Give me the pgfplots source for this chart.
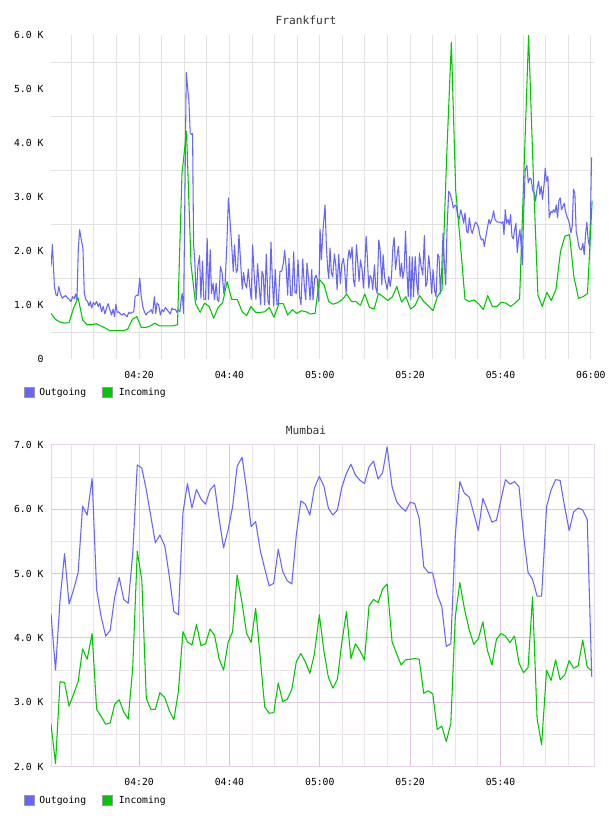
\documentclass[border=0pt]{standalone}
\usepackage{fontspec}
\setmainfont{DejaVu Sans Mono}
\usepackage{pgfplots}
\pgfplotsset{compat=1.18}
\usepackage{pgfplotstable}
\definecolor{outc}{RGB}{102,102,255}
\definecolor{inc}{RGB}{0,200,0}
\definecolor{gridg}{RGB}{226,226,226}
\definecolor{gridp}{RGB}{222,196,222}
\definecolor{gridpl}{RGB}{234,228,234}
\definecolor{framec}{RGB}{232,212,232}

\pgfplotstableread{
t v
0.51 1.72
0.81 2.13
1.25 1.35
1.62 1.19
1.91 1.18
2.21 1.35
2.57 1.22
3.01 1.13
3.38 1.16
3.75 1.18
4.12 1.14
4.56 1.11
4.93 1.07
5.29 1.16
5.66 1.13
5.96 1.21
6.25 1.10
6.54 2.03
6.84 2.40
7.21 2.21
7.57 2.06
7.87 1.22
8.24 1.10
8.60 1.07
8.90 0.99
9.19 1.07
9.49 0.95
9.85 1.05
10.22 1.01
10.59 1.07
10.96 0.98
11.32 1.04
11.69 0.88
12.06 0.98
12.43 0.84
12.79 0.95
13.16 1.03
13.53 0.92
13.90 0.82
14.26 0.93
14.56 0.79
14.85 1.02
15.15 0.87
15.51 0.88
15.88 0.84
16.25 0.82
16.62 0.85
16.99 0.82
17.35 0.79
17.72 0.87
18.09 0.85
18.46 0.87
18.82 0.88
19.12 1.16
19.49 1.19
19.78 1.18
20.15 1.50
20.44 1.19
20.81 0.98
21.18 0.88
21.54 0.82
21.91 0.87
22.28 0.88
22.65 0.92
23.01 0.85
23.38 1.16
23.68 0.85
23.97 1.04
24.34 1.01
24.71 0.82
25.07 0.92
25.44 0.88
25.81 0.96
26.18 0.92
26.54 0.88
26.91 0.84
27.28 0.95
27.65 0.92
28.01 0.93
28.38 0.87
28.68 0.92
29.04 0.88
29.34 1.13
29.56 1.22
29.85 0.85
30.44 5.31
30.74 5.03
31.03 4.78
31.32 4.19
31.62 4.16
31.84 4.18
32.06 2.15
32.35 1.78
32.65 1.10
33.01 1.72
33.38 1.92
33.68 1.13
34.04 1.82
34.34 1.11
34.71 1.11
35.07 2.24
35.37 1.11
35.74 2.03
36.03 1.22
36.40 1.41
36.69 1.10
37.06 1.41
37.35 1.10
37.65 1.07
38.01 1.72
38.38 1.60
38.75 1.22
39.04 1.41
39.41 2.09
39.78 2.99
40.47 2.15
40.84 1.63
41.13 2.12
41.50 1.61
41.80 1.66
42.10 2.31
42.47 1.81
42.83 1.30
43.13 1.61
43.43 1.41
43.80 1.32
44.17 1.67
44.53 1.32
44.83 1.11
45.13 2.12
45.50 1.53
45.86 1.11
46.23 1.77
46.60 1.32
46.90 1.01
47.20 1.63
47.49 1.56
47.79 1.01
48.16 1.95
48.53 1.07
48.82 1.01
49.19 2.17
49.49 1.50
49.78 0.99
50.15 1.66
50.52 1.01
50.82 1.04
51.19 1.63
51.56 1.63
51.93 1.78
52.22 2.02
52.59 1.66
52.89 1.19
53.18 1.87
53.55 1.18
53.85 1.18
54.22 1.99
54.51 1.24
54.81 1.22
55.18 1.84
55.55 1.16
55.84 1.01
56.21 1.86
56.58 1.35
56.88 1.10
57.17 1.78
57.54 1.47
57.84 1.10
58.21 1.66
58.50 1.10
58.87 1.50
59.17 1.56
59.46 1.48
59.76 1.07
60.06 2.41
60.35 1.84
60.72 2.40
61.16 2.86
61.46 2.09
61.76 1.67
61.98 1.50
62.27 2.06
62.57 1.60
62.86 1.53
63.23 1.95
63.53 1.75
63.83 1.29
64.19 1.94
64.56 1.40
64.86 1.75
65.23 1.87
65.52 1.66
65.82 1.22
66.19 1.84
66.49 2.03
66.78 1.87
67.15 2.08
67.45 1.47
67.74 1.35
68.11 2.12
68.41 1.78
68.70 1.44
69.00 1.84
69.37 1.66
69.66 1.32
69.96 1.72
70.26 2.28
70.55 1.84
70.85 1.32
71.14 1.55
71.44 1.50
71.73 1.29
72.10 1.75
72.40 1.32
72.69 1.22
73.06 2.21
73.36 2.03
73.73 1.38
74.02 1.94
74.32 1.53
74.62 1.41
74.91 1.29
75.28 1.53
75.58 1.35
75.87 1.53
76.17 2.06
76.46 2.26
76.76 1.66
77.13 1.94
77.42 2.09
77.79 1.53
78.09 1.78
78.38 1.50
78.68 1.66
78.98 2.37
79.27 1.66
79.57 1.16
79.86 1.90
80.16 1.10
80.45 1.90
80.75 1.16
81.12 1.90
81.46 1.41
81.75 1.19
82.05 1.97
82.42 1.73
82.79 1.56
83.15 2.29
83.45 1.35
83.74 1.41
84.11 1.92
84.41 1.66
84.77 1.22
85.07 1.66
85.44 1.26
85.73 1.16
86.10 1.95
86.40 1.90
86.69 1.22
86.99 1.66
87.28 2.33
87.58 1.78
87.87 1.38
88.16 2.40
88.53 3.11
88.83 3.07
89.20 2.96
89.56 2.80
89.86 2.85
90.23 2.84
90.52 2.65
90.89 2.60
91.19 2.77
91.55 2.65
91.85 2.52
92.14 2.71
92.51 2.37
92.81 2.34
93.10 2.62
93.47 2.40
93.76 2.33
94.06 2.43
94.43 2.54
94.80 2.51
95.09 2.46
95.46 2.29
95.76 2.21
96.12 2.23
96.42 2.09
96.79 2.29
97.16 2.46
97.45 2.59
97.74 2.51
98.11 2.60
98.48 2.75
98.78 2.59
99.14 2.55
99.51 2.54
99.88 2.54
100.25 2.52
100.54 2.55
100.77 2.31
101.06 2.77
101.36 2.52
101.65 2.59
101.95 2.49
102.24 2.68
102.53 2.28
102.83 2.23
103.12 2.40
103.42 2.52
103.71 1.98
104.01 2.24
104.30 2.40
104.60 2.09
104.82 1.75
105.11 2.65
105.48 3.51
105.85 3.59
106.15 3.27
106.51 3.36
106.81 3.33
107.10 3.14
107.47 3.08
107.77 2.93
108.06 3.14
108.43 3.30
108.72 3.05
109.02 3.20
109.31 2.96
109.68 3.27
109.90 3.54
110.20 3.30
110.49 3.39
110.79 2.62
111.16 2.74
111.45 2.72
111.75 2.77
112.04 2.72
112.34 2.86
112.63 2.62
112.92 2.93
113.22 2.99
113.51 2.77
113.81 2.83
114.10 2.89
114.40 2.74
114.69 2.65
114.99 2.59
115.28 2.51
115.58 2.34
115.87 2.46
116.17 3.15
116.46 3.08
116.76 2.37
117.05 2.24
117.35 2.09
117.64 2.03
117.94 2.03
118.23 2.15
118.53 1.94
118.82 2.31
119.12 2.54
119.41 2.21
119.70 2.09
119.93 2.65
120.15 3.74
}\frout

\pgfplotstableread{
t v
0.5 0.85
1.5 0.74
2.5 0.69
3.5 0.67
4.5 0.68
5.5 0.95
6.5 1.14
7.5 0.73
8.5 0.64
9.5 0.64
10.5 0.66
11.5 0.62
12.5 0.58
13.5 0.53
14.5 0.53
15.5 0.53
16.5 0.53
17.5 0.56
18.5 0.74
19.5 0.79
20.5 0.59
21.5 0.59
22.5 0.62
23.5 0.67
24.5 0.62
25.5 0.62
26.5 0.62
27.5 0.62
28.5 0.64
29.5 3.45
30.5 4.22
31.5 1.75
32.5 1.03
33.5 0.87
34.5 1.04
35.5 0.98
36.5 0.76
37.5 0.96
38.5 1.05
39.5 1.44
40.5 1.11
41.73 1.11
42.83 0.88
43.80 0.81
44.76 0.98
45.79 0.87
46.83 0.87
47.79 0.88
48.82 0.96
49.86 0.78
50.96 1.03
51.93 1.03
52.89 0.82
53.92 0.92
54.88 0.85
55.92 0.90
56.95 0.88
57.91 0.84
58.95 0.85
59.91 1.48
60.94 1.38
61.98 1.07
62.94 1.02
63.97 1.05
65.01 1.11
65.97 1.21
67.00 1.07
67.96 1.07
69.00 1.00
69.96 1.21
70.99 0.96
72.03 0.93
72.99 1.22
74.02 1.16
75.06 1.09
76.09 1.16
77.05 1.35
78.09 1.06
79.05 1.16
80.09 0.93
81.12 1.00
82.08 1.18
83.01 1.07
84.04 0.99
85.07 0.90
86.03 1.16
87.06 1.29
88.09 3.76
89.12 5.87
90.08 3.14
91.11 2.15
92.14 1.11
93.10 1.07
94.13 1.10
95.16 1.03
96.20 0.92
97.16 1.18
98.19 0.98
99.22 0.98
100.18 1.06
101.21 1.04
102.24 0.98
103.20 1.04
104.23 1.12
105.26 3.64
106.22 6.00
107.25 3.45
108.28 1.19
109.24 0.98
110.27 1.24
111.23 1.09
112.26 1.29
113.29 2.00
114.25 2.28
115.28 2.31
116.24 1.53
117.27 1.13
118.30 1.16
119.26 1.22
120.29 2.94
}\frin

\pgfplotstableread{
t o i
0.5 4.38 2.66
1.5 3.50 2.05
2.5 4.59 3.32
3.5 5.31 3.31
4.5 4.53 2.94
5.5 4.75 3.13
6.5 5.01 3.32
7.5 6.05 3.83
8.5 5.91 3.67
9.6 6.48 4.07
10.6 4.75 2.89
11.6 4.33 2.78
12.6 4.03 2.66
13.6 4.12 2.68
14.6 4.64 2.97
15.6 4.94 3.04
16.6 4.60 2.85
17.6 4.54 2.74
18.6 5.32 3.55
19.6 6.69 5.35
20.6 6.64 4.90
21.6 6.30 3.06
22.6 5.89 2.89
23.6 5.48 2.89
24.6 5.60 3.15
25.7 5.43 3.07
26.7 4.95 2.87
27.7 4.41 2.73
28.7 4.36 3.17
29.7 5.94 4.10
30.7 6.40 3.94
31.7 6.02 3.89
32.7 6.31 4.21
33.7 6.16 3.88
34.7 6.08 3.91
35.7 6.30 4.14
36.7 6.38 4.04
37.7 5.86 3.68
38.7 5.40 3.50
39.7 5.68 3.93
40.7 6.04 4.10
41.7 6.67 4.98
42.8 6.81 4.54
43.8 6.31 4.07
44.8 5.73 3.93
45.8 5.81 4.46
46.8 5.37 3.71
47.8 5.08 2.93
48.8 4.81 2.83
49.8 4.85 2.84
50.8 5.38 3.30
51.8 5.03 3.01
52.8 4.89 3.05
53.8 4.84 3.20
54.8 5.60 3.63
55.8 6.13 3.76
56.8 6.08 3.63
57.8 5.91 3.45
58.8 6.33 3.75
59.9 6.51 4.36
60.9 6.36 3.80
61.9 6.02 3.39
62.9 5.91 3.22
63.9 5.99 3.36
64.9 6.35 3.94
65.9 6.56 4.41
66.9 6.70 3.68
67.9 6.53 3.91
68.9 6.45 3.80
69.9 6.40 3.66
70.9 6.66 4.50
71.9 6.75 4.60
72.9 6.47 4.55
73.9 6.57 4.76
74.9 6.97 4.84
76.0 6.35 3.94
77.0 6.12 3.76
78.0 6.03 3.58
79.0 5.97 3.66
80.0 6.11 3.67
81.0 6.09 3.68
82.0 5.86 3.67
83.0 5.11 3.14
84.0 5.02 3.18
85.0 5.01 3.13
86.0 4.67 2.58
87.0 4.49 2.63
88.0 3.87 2.39
89.0 3.91 2.67
90.0 5.60 4.33
91.0 6.43 4.86
92.0 6.25 4.46
93.1 6.19 4.12
94.1 5.93 3.90
95.1 5.67 3.99
96.1 6.17 4.25
97.1 5.99 3.81
98.1 5.80 3.58
99.1 5.83 3.98
100.1 6.15 4.07
101.1 6.46 4.03
102.1 6.39 3.93
103.1 6.43 4.03
104.1 6.35 3.61
105.1 5.60 3.46
106.1 5.02 3.54
107.1 4.91 4.64
108.1 4.65 2.75
109.1 4.65 2.34
110.2 6.04 3.50
111.2 6.30 3.34
112.2 6.46 3.66
113.2 6.45 3.35
114.2 6.04 3.42
115.2 5.67 3.65
116.2 5.96 3.53
117.2 6.02 3.57
118.2 5.99 3.97
119.2 5.84 3.55
120.2 3.40 3.49
}\mumbai

\begin{document}
\begin{tikzpicture}
\fill[white] (0,0) rectangle (456pt,612pt);
\path[use as bounding box] (0,0) rectangle (456pt,612pt);

\pgfplotsset{
  rrd/.style={
    scale only axis, width=407.25pt, xmin=0.5, xmax=120.7,
    tick label style={font=\fontsize{7.3}{8}\selectfont, text=black},
    major tick length=0pt, minor tick length=0pt,
    tick style={draw=none},
    xticklabel style={anchor=center, inner sep=0pt, yshift=-11.7pt},
    yticklabel style={anchor=east, inner sep=0pt, xshift=-5.5pt},
    every axis plot/.append style={line width=0.8pt, line join=round, mark=none},
  }
}

% ---------- Frankfurt ----------
\begin{axis}[rrd, at={(38.25pt,342.5pt)}, anchor=south west, height=243pt,
  ymin=0, ymax=6,
  xtick={20,40,60,80,100,120}, xticklabels={04:20,04:40,05:00,05:20,05:40,06:00},
  minor xtick={5,10,...,120},
  ytick={0,1,2,3,4,5,6}, yticklabels={0,1.0 K,2.0 K,3.0 K,4.0 K,5.0 K,6.0 K},
  minor ytick={0.5,1.5,...,5.5},
  grid=minor, minor grid style={gridg, line width=0.75pt},
  axis line style={draw=none},
]
\addplot[outc] table[x=t, y=v] {\frout};
\addplot[inc] table[x=t, y=v] {\frin};
\end{axis}

% ---------- Mumbai ----------
\begin{axis}[rrd, at={(38.25pt,36.98pt)}, anchor=south west, height=241.3pt,
  ymin=2, ymax=7,
  xtick={20,40,60,80,100}, xticklabels={04:20,04:40,05:00,05:20,05:40},
  minor xtick={5,10,15,25,30,35,45,50,55,65,70,75,85,90,95,105,110,115},
  ytick={2,3,4,5,6,7}, yticklabels={2.0 K,3.0 K,4.0 K,5.0 K,6.0 K,7.0 K},
  minor ytick={2.5,3.5,...,6.5},
  grid=both, major grid style={gridp, line width=0.75pt},
  minor grid style={gridpl, line width=0.75pt},
  axis line style={framec, line width=0.75pt},
]
\addplot[outc] table[x=t, y=o] {\mumbai};
\addplot[inc] table[x=t, y=i] {\mumbai};
\end{axis}

% titles
\node[font=\fontsize{8.4}{9}\selectfont, text=black!80] at (229.5pt,597pt) {Frankfurt};
\node[font=\fontsize{8.4}{9}\selectfont, text=black!80] at (229.5pt,289.5pt) {Mumbai};

% legends
\begin{scope}[font=\fontsize{7.3}{8}\selectfont]
\filldraw[draw=black!40, fill=outc, line width=0.6pt] (18pt,314.25pt) rectangle (25.5pt,321.75pt);
\node[anchor=base west, inner sep=0pt] at (29.25pt,315.4pt) {Outgoing};
\filldraw[draw=black!40, fill=inc, line width=0.6pt] (76.9pt,314.25pt) rectangle (84.4pt,321.75pt);
\node[anchor=base west, inner sep=0pt] at (88.9pt,315.4pt) {Incoming};
\filldraw[draw=black!40, fill=outc, line width=0.6pt] (18pt,8.25pt) rectangle (25.5pt,15.75pt);
\node[anchor=base west, inner sep=0pt] at (29.25pt,9.4pt) {Outgoing};
\filldraw[draw=black!40, fill=inc, line width=0.6pt] (76.9pt,8.25pt) rectangle (84.4pt,15.75pt);
\node[anchor=base west, inner sep=0pt] at (88.9pt,9.4pt) {Incoming};
\end{scope}
\end{tikzpicture}
\end{document}
